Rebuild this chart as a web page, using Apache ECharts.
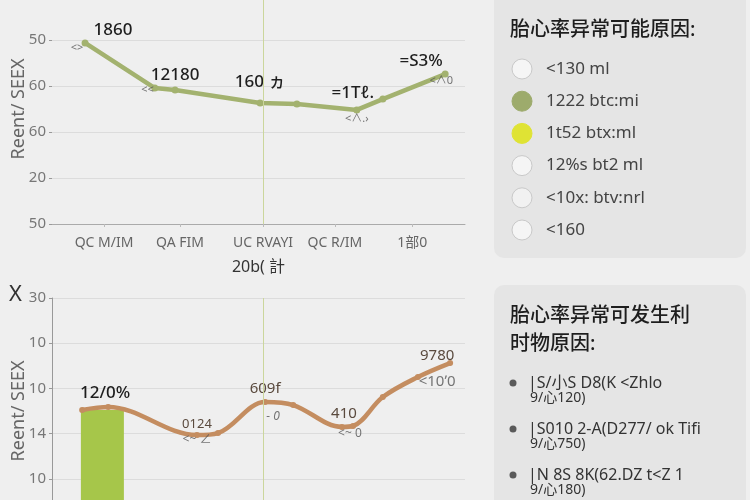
<!DOCTYPE html>
<html><head><meta charset="utf-8">
<script src="https://cdn.jsdelivr.net/npm/echarts@6/dist/echarts.min.js"></script>
<style>html,body{margin:0;padding:0;background:#efefef}#c{width:750px;height:500px}</style>
</head><body><div id="c"></div><script>
// ---------- data ----------
const topCategories = ['QC M/IM', 'QA FIM', 'UC RVAYI', 'QC R/IM', '1部0'];
const topCategoryPos = [12.6, 31.0, 51.1, 68.5, 87.2];
const topYTicks = [0, 25, 50, 75, 100];
const topYTickLabels = ['50', '20', '60', '60', '50'];
const topX = [8.0, 24.9, 29.8, 50.4, 59.3, 73.8, 80.1, 95.2];
const topY = [98.4, 73.9, 72.8, 65.8, 65.2, 62.0, 67.9, 81.5];
const topLabels = ['1860', '', '12180', '160 ヵ', '', '=1Tℓ.', '', '=S3%'];
const topSubLabels = ['<>', '<<', '', '', '', '<∧.›', '', '<∧0'];

const bottomYTicks = [25, 50, 75, 100, 125];
const bottomYTickLabels = ['10', '14', '10', '10', '30'];
const bottomX = [7.3, 13.6, 35.1, 40.2, 51.6, 58.4, 70.2, 72.9, 80.1, 88.6, 96.4];
const bottomY = [63.1, 64.7, 49.2, 50.3, 67.5, 65.8, 53.7, 54.2, 70.2, 81.3, 89.0];
const bottomLabels = ['12/0%', '', '0124', '', '609f', '', '410', '', '', '', '9780'];
const bottomSubLabels = ['', '', '<~ ∠', '', '- 0', '', '<~ 0', '', '', '', '<10ʼ0'];
const barX = [12.2];
const barY = [63.1];
const markX = 51.1;

const yAxisName = 'Reent/ SEEX';
const topXAxisName = '20b( 計';
const legendTitle = '胎心率异常可能原因:';
const legendLabels = ['<130 ml', '1222 btc:mi', '1t52 btx:ml', '12%s bt2 ml', '<10x: btv:nrl', '<160'];
const legendColors = ['#f5f5f5', '#9dab6c', '#dfe334', '#f5f5f5', '#f1f1f1', '#f5f5f5'];
const noteTitle = ['胎心率异常可发生利', '时物原因:'];
const noteLines1 = ['|S/小S D8(K <Zhlo', '|S010 2-A(D277/ ok Tifi', '|N 8S 8K(62.DZ t<Z 1'];
const noteLines2 = ['9/心120)', '9/心750)', '9/心180)'];

// ---------- styles ----------
const FONT = '"Noto Sans", "Noto Sans CJK SC", sans-serif';
const OLIVE = '#a3b26f';
const BROWN = '#c48d60';
const BAR = '#a6c64a';

const topMainOffsets = {0: [28, 4], 2: [0, 2], 3: [0, -4], 5: [-4, 0], 7: [-24, 4]};
const topSubPos = {0: ['bottom', [-8, -6]], 1: ['left', [4, 2]], 5: ['bottom', [0, -2]], 7: ['bottom', [-4, -4]]};
const botMainOffsets = {0: [23, 0], 2: [0, 4], 4: [0, 2], 6: [2, 2], 10: [-13, 8]};
const botSubPos = {2: ['bottom', [0, -6]], 4: ['bottom', [8, 4]], 6: ['bottom', [8, -4]], 10: ['bottom', [-13, 6]]};

function mainLabel(text, off, size, color, weight) {
  return {show: !!text, formatter: text, position: 'top', offset: off || [0, 0],
    fontSize: size, color: color, fontFamily: FONT, fontWeight: weight || 'normal'};
}

const topLineData = topX.map((x, i) => ({
  value: [x, topY[i]],
  label: mainLabel(topLabels[i], topMainOffsets[i], 17, '#1e1e1e', 500)
}));
const topSubData = topX.map((x, i) => {
  const p = topSubPos[i] || ['bottom', [0, 0]];
  return {value: [x, topY[i]], label: {show: !!topSubLabels[i], formatter: topSubLabels[i], position: p[0], offset: p[1], fontSize: 11, color: '#555', fontFamily: FONT}};
});
const botLineData = bottomX.map((x, i) => ({
  value: [x, bottomY[i]],
  label: mainLabel(bottomLabels[i], botMainOffsets[i], i === 0 ? 17 : (i === 2 ? 13 : 15), i === 0 ? '#1e1e1e' : '#5a4a3e', i === 0 ? 500 : 'normal')
}));
const botSubData = bottomX.map((x, i) => {
  const p = botSubPos[i] || ['bottom', [0, 0]];
  return {value: [x, bottomY[i]], label: {show: !!bottomSubLabels[i], formatter: bottomSubLabels[i], position: p[0], offset: p[1], fontSize: i === 10 ? 15 : 12, color: '#555', fontFamily: FONT, fontStyle: i === 4 ? 'italic' : 'normal'}};
});

function tickLabel(ticks, labels) {
  return v => { const k = ticks.indexOf(v); return k >= 0 ? labels[k] : ''; };
}

// ---------- graphic panels ----------
const graphics = [];
graphics.push({type: 'rect', shape: {x: 494, y: -12, width: 252, height: 270, r: 10}, style: {fill: '#e5e5e5'}});
graphics.push({type: 'text', x: 510, y: 20, style: {text: legendTitle, font: '500 20px ' + FONT, fill: '#1e1e1e'}});
legendLabels.forEach((t, i) => {
  const cy = 69 + i * 32.2;
  const pale = legendColors[i] !== '#9dab6c' && legendColors[i] !== '#dfe334';
  graphics.push({type: 'circle', shape: {cx: 522, cy: cy, r: 10}, style: {fill: legendColors[i], stroke: pale ? '#c9c9c9' : legendColors[i], lineWidth: 1}});
  graphics.push({type: 'text', x: 546, y: cy, style: {text: t, font: '17px ' + FONT, fill: '#444', verticalAlign: 'middle'}});
});
graphics.push({type: 'rect', shape: {x: 494, y: 285, width: 252, height: 240, r: 10}, style: {fill: '#e5e5e5'}});
noteTitle.forEach((t, i) => {
  graphics.push({type: 'text', x: 510, y: 306 + i * 28, style: {text: t, font: '500 20px ' + FONT, fill: '#1e1e1e'}});
});
noteLines1.forEach((t, i) => {
  const cy = 383 + i * 46;
  graphics.push({type: 'circle', shape: {cx: 513, cy: cy, r: 3.5}, style: {fill: '#5a5a5a'}});
  graphics.push({type: 'text', x: 528, y: cy, style: {text: t, font: '16px ' + FONT, fill: '#333', verticalAlign: 'middle'}});
  graphics.push({type: 'text', x: 530, y: cy + 15, style: {text: noteLines2[i], font: '14px ' + FONT, fill: '#333', verticalAlign: 'middle'}});
});
graphics.push({type: 'text', x: 9, y: 284, style: {text: 'X', font: '22px ' + FONT, fill: '#333'}});

// ---------- chart ----------
const chart = echarts.init(document.getElementById('c'));
chart.setOption({
  backgroundColor: '#efefef',
  animation: false,
  textStyle: {fontFamily: FONT},
  grid: [
    {left: 52, width: 413, top: -6, height: 230, outerBoundsMode: 'none', containLabel: false},
    {left: 52, width: 413, top: 298, height: 226, outerBoundsMode: 'none', containLabel: false}
  ],
  xAxis: [
    {gridIndex: 0, type: 'value', min: 0, max: 100,
      name: topXAxisName, nameLocation: 'middle', nameGap: 35,
      nameTextStyle: {fontSize: 16, color: '#333', fontFamily: FONT},
      axisLine: {show: true, lineStyle: {color: '#aaa'}},
      axisTick: {show: true, customValues: topCategoryPos, length: 3, lineStyle: {color: '#bbb'}},
      axisLabel: {customValues: topCategoryPos, fontSize: 14, color: '#666', margin: 12,
        formatter: tickLabel(topCategoryPos, topCategories)},
      splitLine: {show: false}},
    {gridIndex: 1, type: 'value', min: 0, max: 100, show: false, splitLine: {show: false}}
  ],
  yAxis: [
    {gridIndex: 0, type: 'value', min: 0, max: 125, interval: 25,
      name: yAxisName, nameLocation: 'middle', nameGap: 24, nameRotate: 90, nameMoveOverlap: false,
      nameTextStyle: {fontSize: 18, color: '#666', fontFamily: FONT},
      axisLine: {show: false}, axisTick: {show: true, length: 3, lineStyle: {color: '#999'}},
      axisLabel: {fontSize: 15, color: '#777', margin: 6, formatter: tickLabel(topYTicks, topYTickLabels)},
      splitLine: {lineStyle: {color: '#dcdcdc'}}},
    {gridIndex: 1, type: 'value', min: 0, max: 125, interval: 25,
      name: yAxisName, nameLocation: 'middle', nameGap: 24, nameRotate: 90, nameMoveOverlap: false,
      nameTextStyle: {fontSize: 18, color: '#666', fontFamily: FONT},
      axisLine: {show: true, lineStyle: {color: '#999'}}, axisTick: {show: true, length: 3, lineStyle: {color: '#999'}},
      axisLabel: {fontSize: 15, margin: 6, formatter: tickLabel(bottomYTicks, bottomYTickLabels),
        color: v => v === 100 ? '#b8b8b8' : '#777'},
      splitLine: {lineStyle: {color: '#dcdcdc'}}}
  ],
  series: [
    {type: 'line', xAxisIndex: 0, yAxisIndex: 0, data: topLineData,
      lineStyle: {color: OLIVE, width: 4.5}, itemStyle: {color: OLIVE},
      symbol: 'circle', symbolSize: 7, z: 3,
      markLine: {silent: true, symbol: 'none', label: {show: false},
        lineStyle: {color: '#cbd69c', width: 1, type: 'solid'}, data: [{xAxis: markX}]}},
    {type: 'scatter', xAxisIndex: 0, yAxisIndex: 0, data: topSubData, symbolSize: 0, z: 4},
    {type: 'bar', xAxisIndex: 1, yAxisIndex: 1, data: barX.map((x, i) => [x, barY[i]]),
      barWidth: 43, itemStyle: {color: BAR}, z: 2},
    {type: 'line', xAxisIndex: 1, yAxisIndex: 1, data: botLineData, smooth: 0.35,
      lineStyle: {color: BROWN, width: 4.5}, itemStyle: {color: BROWN},
      symbol: 'circle', symbolSize: 6, z: 3,
      markLine: {silent: true, symbol: 'none', label: {show: false},
        lineStyle: {color: '#cbd69c', width: 1, type: 'solid'}, data: [{xAxis: markX}]}},
    {type: 'scatter', xAxisIndex: 1, yAxisIndex: 1, data: botSubData, symbolSize: 0, z: 4}
  ],
  graphic: graphics
});
</script></body></html>
